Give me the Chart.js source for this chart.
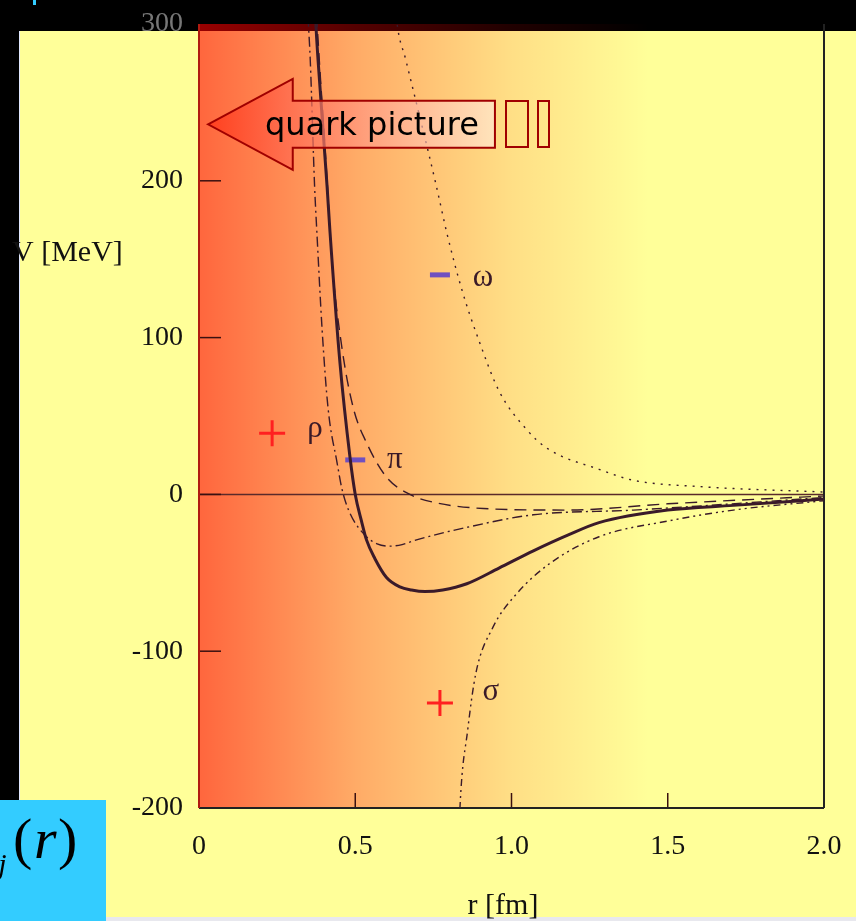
<!DOCTYPE html>
<html>
<head>
<meta charset="utf-8">
<script src="https://cdn.jsdelivr.net/npm/chart.js@4"></script>
<style>
  body { margin: 0; background: #000; }
  canvas { display: block; }
</style>
</head>
<body>
<canvas id="myChart" width="856" height="921"></canvas>
<script>
// total potential (solid)
const rTotal = [0.368, 0.374, 0.381, 0.41, 0.419, 0.451, 0.483, 0.50, 0.52, 0.536, 0.563, 0.60, 0.643, 0.68, 0.723, 0.78, 0.857, 0.96, 1.07, 1.18, 1.28, 1.5, 1.71, 2.0];
const vTotal = [330, 300, 277, 196, 168, 84, 24, 0, -17, -29, -41, -53, -59, -61, -62, -61, -57, -47, -36, -26, -18, -10, -7, -3];
// pi (dashed)
const rPi = [0.37, 0.378, 0.41, 0.425, 0.457, 0.494, 0.536, 0.60, 0.675, 0.75, 0.91, 1.18, 1.5, 2.0];
const vPi = [330, 300, 200, 150, 94, 55, 33, 11, 0, -5, -9, -10, -6, -1];
// rho (dash-dot)
const rRho = [0.34, 0.35, 0.356, 0.37, 0.377, 0.394, 0.413, 0.442, 0.458, 0.483, 0.536, 0.57, 0.61, 0.65, 0.696, 0.857, 1.07, 1.39, 2.0];
const vRho = [330, 300, 277, 196, 168, 105, 55, 20, 3, -12, -27, -31.5, -33, -32, -29, -21, -13, -10, -2];
// omega (dotted)
const rOmega = [0.62, 0.634, 0.662, 0.758, 0.794, 0.842, 0.896, 0.96, 1.05, 1.117, 1.28, 1.39, 1.6, 2.0];
const vOmega = [330, 300, 277, 198, 166, 130, 98, 66, 41, 29, 16, 9, 5, 1.5];
// sigma (dash-dot-dot)
const rSigma = [0.83, 0.835, 0.86, 0.886, 0.94, 1.018, 1.123, 1.28, 1.5, 1.71, 2.0];
const vSigma = [-230, -200, -150, -114, -85, -63, -44, -27, -17, -10, -4];

// markers
const crossR = [0.234, 0.771];
const crossV = [39, -133];
const barR = [0.5, 0.771];
const barV = [22, 140];

// curve labels
const labelText = ['ρ', 'π', 'ω', 'σ'];
const labelR = [0.371, 0.627, 0.909, 0.934];
const labelV = [42, 22, 138, -126];

const xTicks = [0, 0.5, 1.0, 1.5, 2.0];
const yTicks = [-200, -100, 0, 100, 200, 300];

const lineColor = '#3a1a2a';
const pts = (rs, vs) => rs.map((r, i) => ({ x: r, y: vs[i] }));

function curve(rs, vs, width, dash) {
  return {
    data: pts(rs, vs),
    showLine: true,
    borderColor: lineColor,
    borderWidth: width,
    borderDash: dash,
    pointRadius: 0,
    cubicInterpolationMode: 'monotone'
  };
}

const deco = {
  id: 'deco',
  beforeDraw(chart) {
    const c = chart.ctx;
    c.save();
    c.fillStyle = '#000';
    c.fillRect(0, 0, 856, 921);
    c.fillStyle = '#ffff99';
    c.fillRect(19, 31, 837, 886);
    c.fillStyle = '#e8e8ee';
    c.fillRect(19, 917, 837, 4);
    c.fillStyle = '#e0e8ff';
    c.fillRect(19, 31, 1, 886);
    c.fillStyle = '#33ccff';
    c.fillRect(33, 0, 3, 5);
    c.restore();
  },
  beforeDatasetsDraw(chart) {
    const c = chart.ctx, a = chart.chartArea;
    const x = chart.scales.x, y = chart.scales.y;
    c.save();
    const g = c.createLinearGradient(a.left, 0, a.left + 450, 0);
    g.addColorStop(0, 'rgba(255,0,0,0.6)');
    g.addColorStop(0.35, 'rgba(255,0,0,0.33)');
    g.addColorStop(0.69, 'rgba(255,0,0,0.13)');
    g.addColorStop(1, 'rgba(255,0,0,0)');
    c.fillStyle = g;
    c.fillRect(a.left, a.top, a.right - a.left, a.bottom - a.top);

    // zero line
    c.strokeStyle = '#5a2a2a';
    c.lineWidth = 1.5;
    c.beginPath();
    c.moveTo(a.left, y.getPixelForValue(0));
    c.lineTo(a.right, y.getPixelForValue(0));
    c.stroke();

    // ticks
    c.strokeStyle = '#3a1010';
    c.lineWidth = 1.5;
    [100, 200, 0, -100].forEach(v => {
      const py = y.getPixelForValue(v);
      c.beginPath(); c.moveTo(a.left, py); c.lineTo(a.left + 22, py); c.stroke();
    });
    [0.5, 1.0, 1.5].forEach(v => {
      const px = x.getPixelForValue(v);
      c.beginPath(); c.moveTo(px, a.bottom); c.lineTo(px, a.bottom - 15); c.stroke();
    });

    // frame
    c.lineWidth = 2;
    c.strokeStyle = '#222';
    c.beginPath(); c.moveTo(a.left, a.bottom); c.lineTo(a.right, a.bottom); c.stroke();
    c.beginPath(); c.moveTo(a.right, a.top); c.lineTo(a.right, a.bottom); c.stroke();
    c.strokeStyle = '#b01a10';
    c.beginPath(); c.moveTo(a.left, a.top); c.lineTo(a.left, a.bottom); c.stroke();
    c.restore();
  },
  afterDatasetsDraw(chart) {
    const c = chart.ctx;
    const x = chart.scales.x, y = chart.scales.y;
    c.save();

    // curve labels
    c.font = '31px "Liberation Serif"';
    c.fillStyle = '#3a1a28';
    c.textAlign = 'center';
    c.textBaseline = 'middle';
    labelText.forEach((t, i) => c.fillText(t, x.getPixelForValue(labelR[i]), y.getPixelForValue(labelV[i])));

    // quark picture arrow
    const X = r => x.getPixelForValue(r), Y = v => y.getPixelForValue(v);
    const tipX = X(0.029), barbX = X(0.30), endX = X(0.947);
    const g = c.createLinearGradient(tipX, 0, endX, 0);
    g.addColorStop(0, 'rgba(255,50,20,0.75)');
    g.addColorStop(1, 'rgba(255,235,225,0.6)');
    c.beginPath();
    c.moveTo(tipX, Y(236));
    c.lineTo(barbX, Y(265));
    c.lineTo(barbX, Y(251));
    c.lineTo(endX, Y(251));
    c.lineTo(endX, Y(221));
    c.lineTo(barbX, Y(221));
    c.lineTo(barbX, Y(207));
    c.closePath();
    c.fillStyle = g;
    c.fill();
    c.strokeStyle = '#a00000';
    c.lineWidth = 2;
    c.stroke();
    c.strokeRect(506, 101, 22, 46);
    c.strokeRect(538, 101, 11, 46);
    c.font = '32px "DejaVu Sans"';
    c.fillStyle = '#000';
    c.textAlign = 'left';
    c.fillText('quark picture', 265, 127);

    // axis titles
    c.font = '30px "Liberation Serif"';
    c.fillStyle = '#111';
    c.fillText('V [MeV]', 12, 253);
    c.textAlign = 'center';
    c.fillText('r [fm]', 503, 906);

    // cyan box
    c.fillStyle = '#33ccff';
    c.fillRect(0, 800, 106, 121);
    c.fillStyle = '#000';
    c.textAlign = 'left';
    c.font = 'italic 30px "Liberation Serif"';
    c.fillText('ij', -10, 866);
    c.font = '58px "Liberation Serif"';
    c.fillText('(', 13, 843);
    c.fillText(')', 58, 843);
    c.font = 'italic 58px "Liberation Serif"';
    c.fillText('r', 34, 843);
    c.restore();
  }
};

new Chart(document.getElementById('myChart'), {
  type: 'scatter',
  data: {
    datasets: [
      curve(rOmega, vOmega, 1.4, [2, 6]),
      curve(rSigma, vSigma, 1.4, [7, 4, 2, 4, 2, 4]),
      curve(rRho, vRho, 1.4, [10, 4, 2, 4]),
      curve(rPi, vPi, 1.4, [12, 7]),
      curve(rTotal, vTotal, 3, []),
      {
        data: pts(crossR, crossV),
        pointStyle: 'cross',
        pointRadius: 13,
        borderColor: '#ff2020',
        borderWidth: 3,
        clip: false
      },
      {
        data: pts(barR, barV),
        pointStyle: 'line',
        pointRadius: 10,
        borderColor: '#7050c0',
        borderWidth: 5,
        clip: false
      }
    ]
  },
  options: {
    responsive: false,
    animation: false,
    layout: { padding: { top: 24, right: 32, left: 0, bottom: 0 } },
    plugins: { legend: { display: false }, tooltip: { enabled: false } },
    scales: {
      x: {
        type: 'linear',
        min: 0,
        max: 2,
        afterFit: s => { s.height = 113; s.paddingLeft = 0; s.paddingRight = 0; },
        afterBuildTicks: s => { s.ticks = xTicks.map(v => ({ value: v })); },
        grid: { display: false, drawTicks: false },
        border: { display: false },
        ticks: {
          padding: 22,
          color: '#111',
          font: { family: 'Liberation Serif', size: 28 },
          maxRotation: 0,
          callback: v => v === 0 ? '0' : v.toFixed(1)
        }
      },
      y: {
        type: 'linear',
        min: -200,
        max: 300,
        afterFit: s => { s.width = 199; s.paddingTop = 0; s.paddingBottom = 0; },
        afterBuildTicks: s => { s.ticks = yTicks.map(v => ({ value: v })); },
        grid: { display: false, drawTicks: false },
        border: { display: false },
        ticks: {
          padding: 16,
          color: c => c.tick && c.tick.value === 300 ? '#777' : '#111',
          font: { family: 'Liberation Serif', size: 28 },
          callback: v => String(v)
        }
      }
    }
  },
  plugins: [deco]
});
</script>
</body>
</html>
